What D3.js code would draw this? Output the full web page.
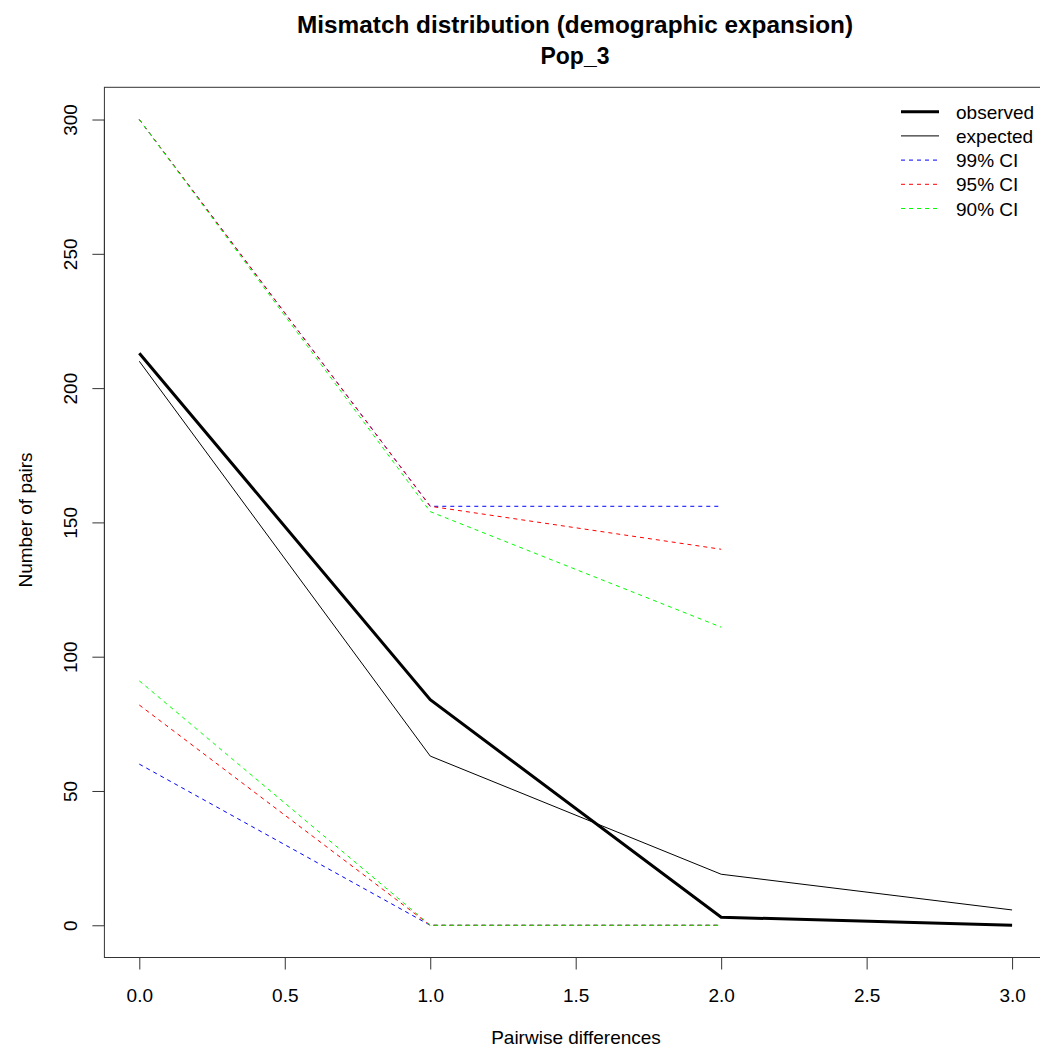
<!DOCTYPE html>
<html><head><meta charset="utf-8">
<script src="https://cdn.jsdelivr.net/npm/d3@7"></script>
<style>body{margin:0;background:#fff}svg{font-family:"Liberation Sans",Arial,sans-serif}</style>
</head><body>
<svg id="c" width="1040" height="1050"></svg>
<script>
const xValues = [0, 1, 2, 3];
const observed = [213, 84, 3, 0];
const expected = [210, 63, 19, 5.7];
const ciX = [0, 1, 2];
const ci99Lower = [60, 0, 0];
const ci99Upper = [300, 156, 156];
const ci95Lower = [82, 0, 0];
const ci95Upper = [300, 156, 140];
const ci90Lower = [91, 0, 0];
const ci90Upper = [300, 154, 111];
const xTicks = [0, 0.5, 1, 1.5, 2, 2.5, 3];
const yTicks = [0, 50, 100, 150, 200, 250, 300];
const legendLabels = ["observed", "expected", "99% CI", "95% CI", "90% CI"];

const svg = d3.select("#c");
const L = 104.4, R = 1047, T = 87.3, B = 957.5;
const x = d3.scaleLinear().domain([-0.12, 3.12]).range([L, R]);
const y = d3.scaleLinear().domain([-12, 312]).range([B, T]);
const FONT = 19;

const g = svg.append("g");
const line = (xs) => d3.line().x((d, i) => x(xs[i])).y(d => y(d));

function ci(vals, color, offset) {
  g.append("path").datum(vals).attr("d", line(ciX))
    .attr("fill", "none").attr("stroke", color).attr("stroke-width", 1)
    .attr("stroke-dasharray", "4,4").attr("stroke-dashoffset", offset);
}
ci(ci99Lower, "#0000ff", 0); ci(ci99Upper, "#0000ff", 0);
ci(ci95Lower, "#ff0000", 0); ci(ci95Upper, "#ff0000", 0);
ci(ci90Lower, "#00ff00", 0); ci(ci90Upper, "#00ff00", 0);

g.append("path").datum(expected).attr("d", line(xValues))
  .attr("fill", "none").attr("stroke", "#000").attr("stroke-width", 1);
g.append("path").datum(observed).attr("d", line(xValues))
  .attr("fill", "none").attr("stroke", "#000").attr("stroke-width", 3);

// box
svg.append("rect").attr("x", L).attr("y", T).attr("width", R - L).attr("height", B - T)
  .attr("fill", "none").attr("stroke", "#333").attr("stroke-width", 1);

// x axis
const xa = svg.append("g").attr("transform", `translate(0,${B})`)
  .call(d3.axisBottom(x).tickValues(xTicks).tickFormat(d3.format(".1f")).tickSize(12).tickPadding(17));
xa.select(".domain").attr("d", `M${x(0)},0H${x(3)}`).attr("stroke", "#333");
xa.selectAll(".tick line").attr("stroke", "#333");
xa.selectAll("text").attr("font-size", FONT).attr("fill", "#000")
  .attr("font-family", "Liberation Sans, Arial, sans-serif")
  .attr("y", 44.5).attr("dy", 0);

// y axis
const ya = svg.append("g").attr("transform", `translate(${L},0)`)
  .call(d3.axisLeft(y).tickValues(yTicks).tickSize(12).tickFormat(d3.format("d")));
ya.select(".domain").attr("d", `M0,${y(0)}V${y(300)}`).attr("stroke", "#333");
ya.selectAll(".tick line").attr("stroke", "#333");
ya.selectAll("text").attr("font-size", FONT).attr("fill", "#000")
  .attr("font-family", "Liberation Sans, Arial, sans-serif")
  .attr("x", 0).attr("dy", 0).attr("text-anchor", "middle")
  .attr("transform", "translate(-27,0) rotate(-90)");

// titles
svg.append("text").attr("x", 575).attr("y", 32.5).attr("text-anchor", "middle")
  .attr("font-size", 23).attr("font-weight", "bold")
  .attr("textLength", 556).attr("lengthAdjust", "spacingAndGlyphs")
  .text("Mismatch distribution (demographic expansion)");
svg.append("text").attr("x", 575).attr("y", 63.5).attr("text-anchor", "middle")
  .attr("font-size", 23).attr("font-weight", "bold").text("Pop_3");
svg.append("text").attr("x", 576).attr("y", 1044).attr("text-anchor", "middle")
  .attr("font-size", FONT).text("Pairwise differences");
svg.append("text").attr("transform", "translate(32,520) rotate(-90)").attr("text-anchor", "middle")
  .attr("font-size", FONT).text("Number of pairs");

// legend
const legStyles = [
  {c: "#000", w: 3, d: null},
  {c: "#000", w: 1, d: null},
  {c: "#0000ff", w: 1, d: "4,4"},
  {c: "#ff0000", w: 1, d: "4,4"},
  {c: "#00ff00", w: 1, d: "4,4"}
];
const lg = svg.append("g");
legendLabels.forEach((lab, i) => {
  const yy = 111.7 + i * 24.2;
  const s = legStyles[i];
  lg.append("line").attr("x1", 901).attr("x2", 939).attr("y1", yy).attr("y2", yy)
    .attr("stroke", s.c).attr("stroke-width", s.w).attr("stroke-dasharray", s.d);
  lg.append("text").attr("x", 956).attr("y", yy + 7).attr("font-size", FONT).text(lab);
});
</script>
</body></html>
